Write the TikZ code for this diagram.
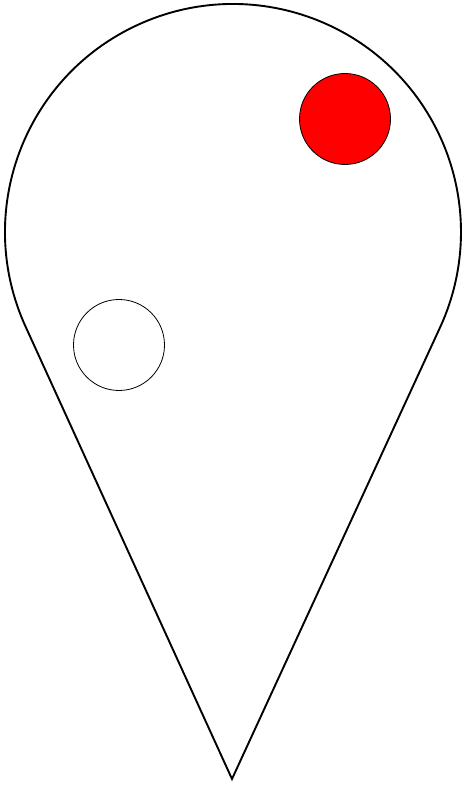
\documentclass[tikz,border=0pt]{standalone}
\usetikzlibrary{calc}
\begin{document}
\begin{tikzpicture}[x=1pt,y=1pt,
  pin/.style={draw=black,line width=1.9pt,line join=miter},
  dot/.style={circle,draw=black,line width=0.8pt,minimum size=91pt,inner sep=0pt}]
\useasboundingbox (0,0) rectangle (465,785);
\coordinate (c) at (233,553);
\coordinate (tip) at (232,6);
\draw[pin] ($(c)+(204.6:228)$) arc[start angle=204.6,end angle=-24.6,radius=228] -- (tip) -- cycle;
\node[dot,fill=red] (red) at (345,666) {};
\node[dot,fill=white] (white) at (119,440) {};
\end{tikzpicture}
\end{document}
